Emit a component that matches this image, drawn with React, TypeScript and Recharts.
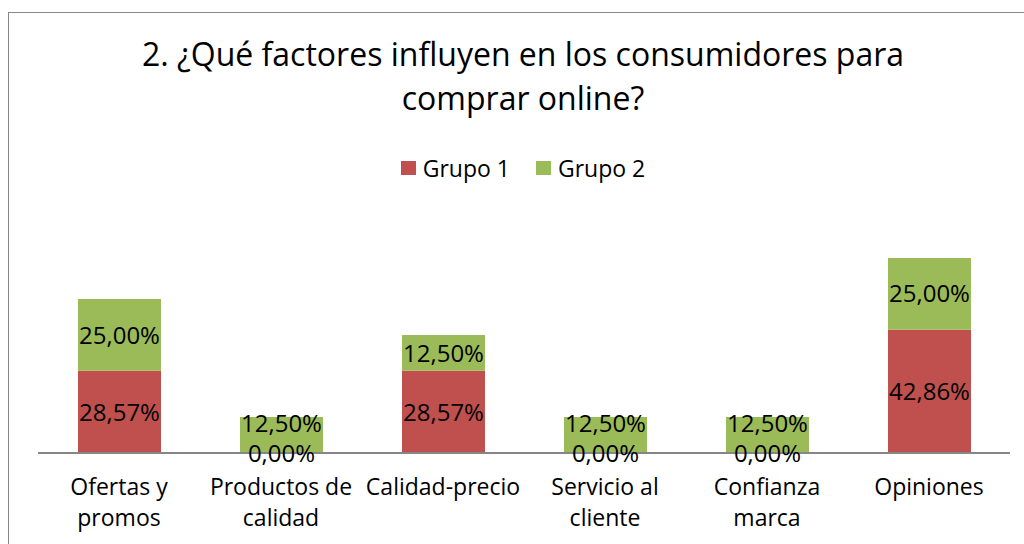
import React from "react";
import { BarChart, Bar, XAxis, YAxis, Legend, LabelList } from "recharts";

const categories = [
  "Ofertas y promos",
  "Productos de calidad",
  "Calidad-precio",
  "Servicio al cliente",
  "Confianza marca",
  "Opiniones",
];
// wrapped tick labels, as Excel breaks them
const tickLines: Record<string, string[]> = {
  "Ofertas y promos": ["Ofertas y", "promos"],
  "Productos de calidad": ["Productos de", "calidad"],
  "Calidad-precio": ["Calidad-precio"],
  "Servicio al cliente": ["Servicio al", "cliente"],
  "Confianza marca": ["Confianza", "marca"],
  "Opiniones": ["Opiniones"],
};
const grupo1 = [28.57, 0, 28.57, 0, 0, 42.86];
const grupo2 = [25, 12.5, 12.5, 12.5, 12.5, 25];
const seriesNames = ["Grupo 1", "Grupo 2"];
const yDomain = [0, 80];

const RED = "#C0504D";
const GREEN = "#9BBB59";
const FONT = "'Open Sans', 'Noto Sans', sans-serif";

const data = categories.map((name, i) => ({ name, g1: grupo1[i], g2: grupo2[i] }));

const fmt = (v: number) => v.toFixed(2).replace(".", ",") + "%";

const CategoryTick = (props: any) => {
  const { x, y, payload } = props;
  const lines = tickLines[payload.value] || [payload.value];
  return (
    <text
      x={x}
      y={y}
      textAnchor="middle"
      fill="#000"
      style={{ fontFamily: FONT, fontSize: 23 }}
    >
      {lines.map((l, i) => (
        <tspan key={i} x={x} y={y + 34 + i * 31}>
          {l}
        </tspan>
      ))}
    </text>
  );
};

const labelStyle = { fontFamily: FONT, fontSize: 24 };

const makeLabel = (series: "g1" | "g2") => (props: any) => {
  const { x, y, width, height, value, index } = props;
  const cx = x + width / 2;
  if (series === "g1") {
    return (
      <text x={cx} y={y + height / 2} dy="0.36em" textAnchor="middle" fill="#000" style={labelStyle}>
        {fmt(value)}
      </text>
    );
  }
  const emptyBelow = grupo1[index] === 0;
  // Excel nudges the green label up when the red segment below is empty
  const cy = y + height / 2 - (emptyBelow ? 12 : 0);
  return (
    <g>
      <text x={cx} y={cy} dy="0.36em" textAnchor="middle" fill="#000" style={labelStyle}>
        {fmt(value)}
      </text>
      {emptyBelow && (
        <text x={cx} y={y + height} dy="0.36em" textAnchor="middle" fill="#000" style={labelStyle}>
          {fmt(grupo1[index])}
        </text>
      )}
    </g>
  );
};

const LegendContent = () => (
  <div
    style={{
      display: "flex",
      justifyContent: "center",
      alignItems: "center",
      fontFamily: FONT,
      fontSize: 23,
      color: "#000",
    }}
  >
    {seriesNames.map((n, i) => (
      <div key={n} style={{ display: "flex", alignItems: "center", marginRight: i === 0 ? 26 : 0 }}>
        <span
          style={{
            display: "inline-block",
            width: 15,
            height: 14,
            background: i === 0 ? RED : GREEN,
            marginRight: 7,
          }}
        />
        <span>{n}</span>
      </div>
    ))}
  </div>
);

export default function App() {
  return (
    <div
      style={{
        position: "fixed",
        left: 0,
        top: 0,
        width: 1024,
        height: 544,
        overflow: "hidden",
        background: "#fff",
      }}
    >
      <div
        style={{
          position: "absolute",
          left: 8,
          top: 12,
          width: 1100,
          height: 700,
          border: "1px solid #878787",
        }}
      />
      <div
        style={{
          position: "absolute",
          left: 0,
          top: 32,
          width: 1046,
          textAlign: "center",
          fontFamily: FONT,
          fontSize: 32,
          lineHeight: "44px",
          color: "#000",
        }}
      >
        2. ¿Qué factores influyen en los consumidores para
        <br />
        comprar online?
      </div>
      <div style={{ position: "absolute", left: 0, top: 0 }}>
        <BarChart
          width={1024}
          height={544}
          data={data}
          margin={{ top: 223, right: 14, left: 38, bottom: 0 }}
          barSize={83}
        >
          <XAxis
            dataKey="name"
            axisLine={{ stroke: "#868686", strokeWidth: 2 }}
            tickLine={false}
            tick={<CategoryTick />}
            interval={0}
            height={91}
          />
          <YAxis hide domain={yDomain} />
          <Legend
            layout="horizontal"
            verticalAlign="middle"
            align="center"
            content={<LegendContent />}
            wrapperStyle={{ top: 152, left: 0, width: 1046, height: 30 }}
          />
          <Bar dataKey="g1" name={seriesNames[0]} stackId="a" fill={RED} isAnimationActive={false}>
            <LabelList dataKey="g1" content={makeLabel("g1")} />
          </Bar>
          <Bar dataKey="g2" name={seriesNames[1]} stackId="a" fill={GREEN} isAnimationActive={false}>
            <LabelList dataKey="g2" content={makeLabel("g2")} />
          </Bar>
        </BarChart>
      </div>
    </div>
  );
}
